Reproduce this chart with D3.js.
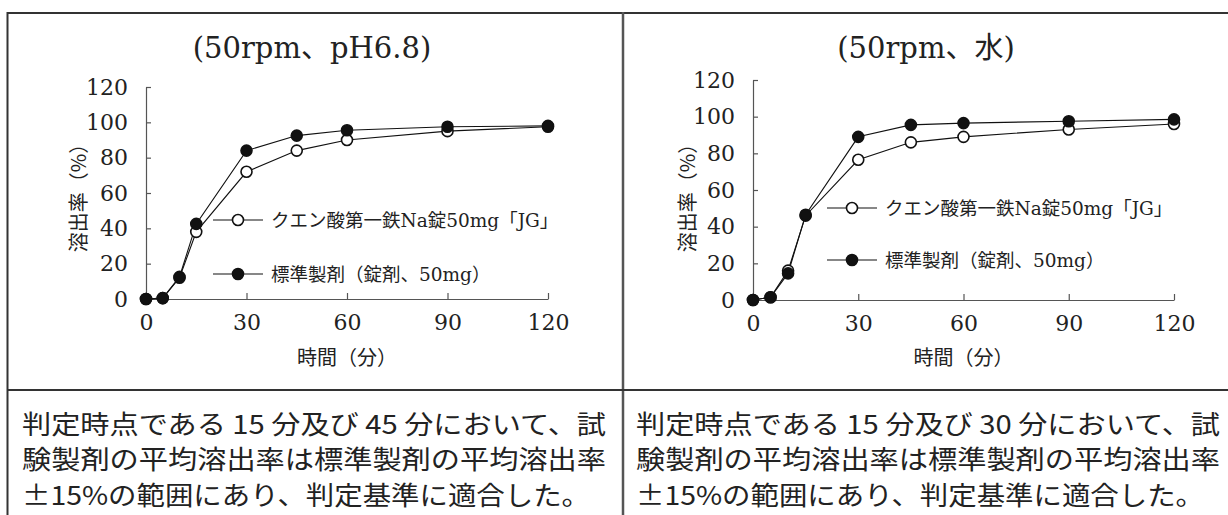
<!DOCTYPE html>
<html><head><meta charset="utf-8">
<script src="https://cdn.jsdelivr.net/npm/d3@7/dist/d3.min.js"></script>
<style>
html,body{margin:0;padding:0;background:#fff;}
svg{display:block;}
</style></head>
<body>
<svg id="chart" width="1228" height="515"></svg>
<script>
// ---- data ----
const times = [0, 5, 10, 15, 30, 45, 60, 90, 120];
const ph68Test = [0, 0.5, 12, 38, 72, 84, 90, 95, 97.5];
const ph68Ref = [0, 0.5, 12.5, 42.5, 84, 92.5, 95.5, 97.5, 98];
const waterTest = [0, 1.5, 16, 46, 76.5, 86, 89, 93, 96];
const waterRef = [0, 1.5, 14.5, 46.5, 89, 95.5, 96.5, 97.5, 98.5];
const xTicks = [0, 30, 60, 90, 120];
const yTicks = [0, 20, 40, 60, 80, 100, 120];
const seriesNames = ["クエン酸第一鉄Na錠50mg「JG」", "標準製剤（錠剤、50mg）"];
const titles = ["(50rpm、pH6.8)", "(50rpm、水)"];
const xTitle = "時間（分）";
const yTitle = "溶出率（%）";
const notesLeft = ["判定時点である 15 分及び 45 分において、試", "験製剤の平均溶出率は標準製剤の平均溶出率", "±15%の範囲にあり、判定基準に適合した。"];
const notesRight = ["判定時点である 15 分及び 30 分において、試", "験製剤の平均溶出率は標準製剤の平均溶出率", "±15%の範囲にあり、判定基準に適合した。"];
const noteWidths = [584, 584, 568];

const LATIN = "'DejaVu Serif', 'Noto Sans CJK JP', serif";
const CJK = "'Noto Sans CJK JP', sans-serif";

const svg = d3.select("#chart");

// frame
const frame = svg.append("g").attr("fill", "none");
frame.append("line").attr("x1", 7).attr("x2", 1228).attr("y1", 13).attr("y2", 13).attr("stroke", "#333").attr("stroke-width", 2);
frame.append("line").attr("x1", 7.5).attr("x2", 7.5).attr("y1", 12).attr("y2", 515).attr("stroke", "#333").attr("stroke-width", 2);
frame.append("line").attr("x1", 623).attr("x2", 623).attr("y1", 12).attr("y2", 515).attr("stroke", "#555").attr("stroke-width", 2.5);
frame.append("line").attr("x1", 7).attr("x2", 1228).attr("y1", 390).attr("y2", 390).attr("stroke", "#333").attr("stroke-width", 2);

function panel(cfg) {
  const g = svg.append("g");
  const x = d3.scaleLinear().domain([0, 120]).range([cfg.x0, cfg.x1]);
  const y = d3.scaleLinear().domain([0, 120]).range([cfg.y0, cfg.y1]);

  g.append("text").attr("x", cfg.titleX).attr("y", 48).attr("text-anchor", "middle")
    .attr("dominant-baseline", "central").attr("font-family", LATIN).attr("font-size", 29)
    .attr("fill", "#222").text(cfg.title);

  const yAxis = g.append("g").attr("transform", `translate(${cfg.x0},0)`)
    .call(d3.axisLeft(y).tickValues(yTicks).tickSize(-5).tickSizeOuter(0).tickPadding(18));
  const xAxis = g.append("g").attr("transform", `translate(0,${cfg.y0})`)
    .call(d3.axisBottom(x).tickValues(xTicks).tickSize(-6).tickSizeOuter(0).tickPadding(15));
  [xAxis, yAxis].forEach(a => {
    a.selectAll("path,line").attr("stroke", "#555").attr("stroke-width", 1.2);
    a.selectAll("text").attr("font-family", LATIN).attr("font-size", 22).attr("fill", "#222");
  });

  g.append("text").attr("x", x(60)).attr("y", 356).attr("text-anchor", "middle")
    .attr("dominant-baseline", "central").attr("font-family", CJK).attr("font-size", 20)
    .attr("fill", "#222").text(xTitle);
  g.append("text").attr("transform", `translate(${cfg.yTitleX},${cfg.yTitleY}) rotate(-90)`)
    .attr("text-anchor", "middle").attr("dominant-baseline", "central")
    .attr("font-family", CJK).attr("font-size", 20).attr("fill", "#222").text(yTitle);

  const line = d3.line().x((d, i) => x(times[i])).y(d => y(d));
  const series = [{vals: cfg.test, open: true}, {vals: cfg.ref, open: false}];
  series.forEach(s => {
    g.append("path").datum(s.vals).attr("d", line).attr("fill", "none")
      .attr("stroke", "#111").attr("stroke-width", 1.1);
  });
  series.forEach(s => {
    g.selectAll(null).data(s.vals).enter().append("circle")
      .attr("cx", (d, i) => x(times[i])).attr("cy", d => y(d)).attr("r", 5.5)
      .attr("fill", s.open ? "#fff" : "#111").attr("stroke", "#111").attr("stroke-width", 1.6);
  });

  // legend
  series.forEach((s, k) => {
    const ly = cfg.legY[k];
    g.append("line").attr("x1", cfg.legX).attr("x2", cfg.legX + 50).attr("y1", ly).attr("y2", ly)
      .attr("stroke", "#111").attr("stroke-width", 1.1);
    g.append("circle").attr("cx", cfg.legX + 25).attr("cy", ly).attr("r", 5.5)
      .attr("fill", s.open ? "#fff" : "#111").attr("stroke", "#111").attr("stroke-width", 1.6);
    g.append("text").attr("x", cfg.legX + 58).attr("y", ly).attr("dominant-baseline", "central")
      .attr("font-family", LATIN).attr("font-size", 18.5).attr("fill", "#222").text(seriesNames[k]);
  });

  // notes
  cfg.notes.forEach((t, k) => {
    g.append("text").attr("x", cfg.noteX).attr("y", 422 + k * 35.5)
      .attr("dominant-baseline", "central").attr("font-family", CJK).attr("font-size", 26)
      .attr("fill", "#222").attr("textLength", noteWidths[k]).attr("lengthAdjust", "spacingAndGlyphs")
      .text(t);
  });
}

panel({x0: 146, x1: 548, y0: 299, y1: 87, titleX: 312, title: titles[0],
  yTitleX: 77, yTitleY: 193, test: ph68Test, ref: ph68Ref,
  legX: 213, legY: [220, 274], notes: notesLeft, noteX: 22});
panel({x0: 753, x1: 1174, y0: 300, y1: 80, titleX: 926, title: titles[1],
  yTitleX: 686, yTitleY: 193, test: waterTest, ref: waterRef,
  legX: 827, legY: [208, 260], notes: notesRight, noteX: 636});
</script>
</body></html>
